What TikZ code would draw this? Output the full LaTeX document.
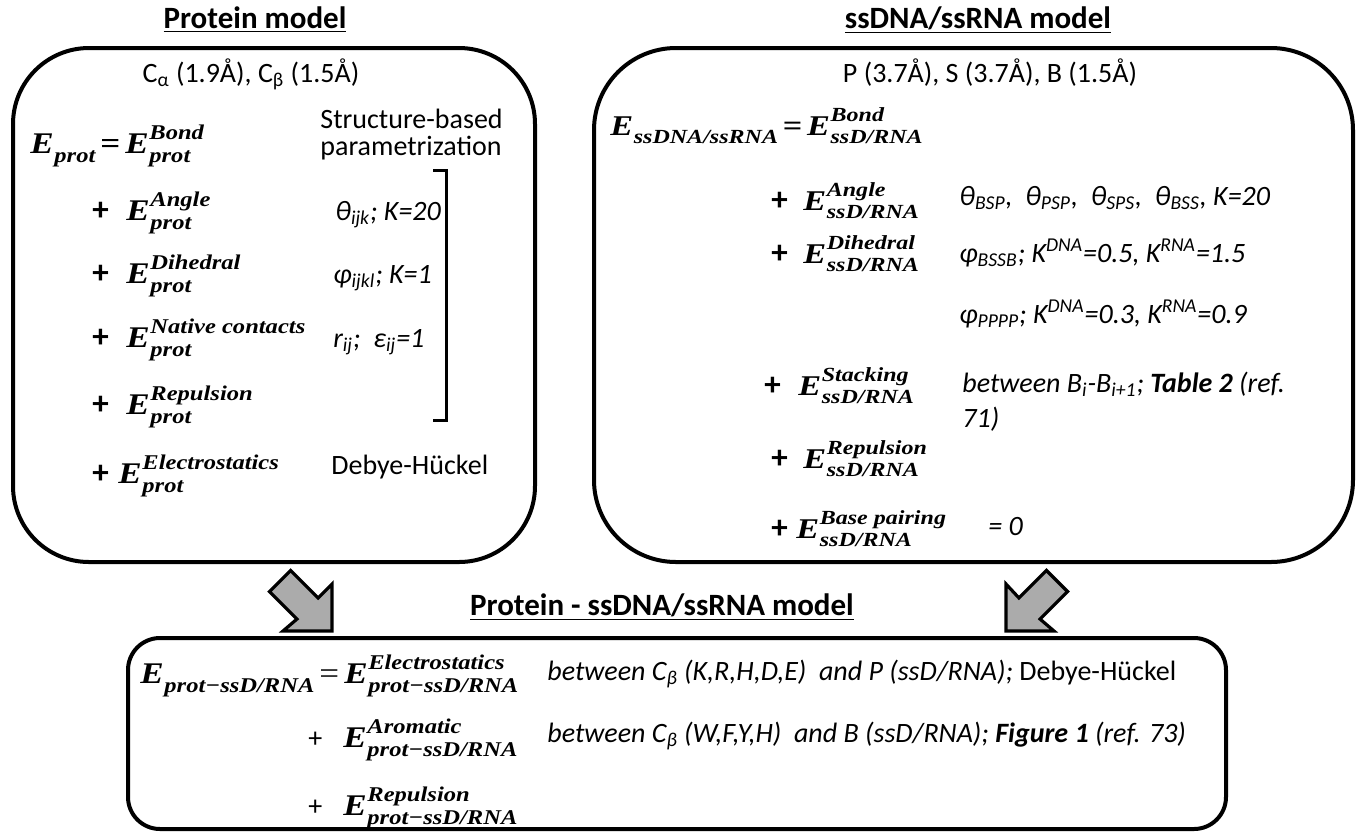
\documentclass[tikz,border=0pt]{standalone}
\usepackage{graphicx}
\usepackage{fontspec}
\setmainfont{Carlito}
\newfontfamily\eqfL{Liberation Serif}[FakeStretch=1.17]
\newfontfamily\eqfR{Liberation Serif}[FakeStretch=1.2]
\newcommand\ssc[1]{\scalebox{0.7}{#1}}
\newcommand\supsub[2]{\setbox0\hbox{\ssc{#1}}\setbox2\hbox{\ssc{#2}}%
  \raisebox{0.46em}{\rlap{\copy0}}\raisebox{-0.3em}{\copy2}%
  \ifdim\wd0>\wd2 \kern\dimexpr\wd0-\wd2\relax\fi}
\newcommand\EE[2]{E\kern0.02em\supsub{#1}{#2}}
\newcommand\Esub[1]{E\kern0.02em\raisebox{-0.3em}{\ssc{#1}}}
\tikzset{
  panel/.style={line width=2pt, rounded corners=#1},
  txt/.style={inner sep=0pt, anchor=base west, font=\fontsize{14}{17}\selectfont},
  itxt/.style={inner sep=0pt, anchor=base west, font=\fontsize{14}{17}\selectfont\itshape},
  ctxt/.style={inner sep=0pt, anchor=base, font=\fontsize{14}{17}\selectfont},
  ttl/.style={inner sep=0pt, anchor=base, font=\fontsize{15.5}{18}\selectfont\bfseries},
  plusb/.style={inner sep=0pt, anchor=base west, font=\fontsize{16.5}{17}\selectfont\bfseries},
  plusr/.style={inner sep=0pt, anchor=base west, font=\fontsize{14}{17}\selectfont},
  meqL/.style={inner sep=0pt, anchor=base west, font=\fontsize{15}{17}\selectfont\eqfL\bfseries\itshape},
  meqR/.style={inner sep=0pt, anchor=base west, font=\fontsize{14.3}{17}\selectfont\eqfR\bfseries\itshape},
  blockarrow/.style={fill=black!33, draw=black, line width=1.6pt, line join=miter},
  brk/.style={line width=1.5pt}
}
\begin{document}
\begin{tikzpicture}[x=0.5pt,y=-0.5pt]
\useasboundingbox (0,0) rectangle (1356,832);

% ---------- Protein model ----------
\node[ttl] (t1) at (255,28) {\underline{Protein model}};
\draw[panel=38pt] (13,48) rectangle (535,562);
\node[ctxt] (pa) at (251,82) {C\textsubscript{α} (1.9Å), C\textsubscript{β} (1.5Å)};
\node[meqL] (l0) at (30,153) {\Esub{prot}\,\upshape=\,\itshape\EE{Bond}{prot}};
\node[txt] (sb1) at (320,128) {Structure-based};
\node[txt] (sb2) at (320,155) {parametrization};

\node[plusb] (lp1) at (92,220) {+};
\node[meqL] (le1) at (126,220) {\EE{Angle}{prot}};
\node[itxt] (lt1) at (335,220) {θ\textsubscript{ijk}; K=20};

\node[plusb] (lp2) at (92,283) {+};
\node[meqL] (le2) at (126,283) {\EE{Dihedral}{prot}};
\node[itxt] (lt2) at (333,283) {φ\textsubscript{ijkl}; K=1};

\node[plusb] (lp3) at (92,347) {+};
\node[meqL] (le3) at (126,347) {\EE{Native contacts}{prot}};
\node[itxt] (lt3) at (333,347) {r\textsubscript{ij}; \ ε\textsubscript{ij}=1};

\node[plusb] (lp4) at (92,414) {+};
\node[meqL] (le4) at (126,414) {\EE{Repulsion}{prot}};

\node[plusb] (lp5) at (92,483) {+};
\node[meqL] (le5) at (118,483) {\EE{Electrostatics}{prot}};
\node[txt] (lt5) at (331,474) {Debye-Hückel};

\coordinate (bk1) at (433,170);
\coordinate (bk2) at (433,420);
\draw[brk] (bk1) -- ++(13,0) |- (bk2);

% ---------- ssDNA/ssRNA model ----------
\node[ttl] (t2) at (978,28) {\underline{ssDNA/ssRNA model}};
\draw[panel=41pt] (594,48) rectangle (1353,562);
\node[ctxt] (pb) at (990,82) {P (3.7Å), S (3.7Å), B (1.5Å)};
\node[meqR] (r0) at (610,135) {\Esub{ssDNA/ssRNA}\,\upshape=\,\itshape\EE{Bond}{ssD/RNA}};

\node[plusb] (rp1) at (771,210) {+};
\node[meqR] (re1) at (803,210) {\EE{Angle}{ssD/RNA}};
\node[itxt] (rt1) at (959,205) {θ\textsubscript{BSP}, \ θ\textsubscript{PSP}, \ θ\textsubscript{SPS}, \ θ\textsubscript{BSS}, K=20};

\node[plusb] (rp2) at (771,263) {+};
\node[meqR] (re2) at (803,263) {\EE{Dihedral}{ssD/RNA}};
\node[itxt] (rt2) at (959,262) {φ\textsubscript{BSSB}; K\textsuperscript{DNA}=0.5, K\textsuperscript{RNA}=1.5};
\node[itxt] (rt3) at (959,323) {φ\textsubscript{PPPP}; K\textsuperscript{DNA}=0.3, K\textsuperscript{RNA}=0.9};

\node[plusb] (rp3) at (764,395) {+};
\node[meqR] (re3) at (798,395) {\EE{Stacking}{ssD/RNA}};
\node[itxt] (rt4) at (962,392) {between B\textsubscript{i}-B\textsubscript{i+1}; \textbf{Table 2} (ref.};
\node[itxt] (rt5) at (962,427) {71)};

\node[plusb] (rp4) at (771,468) {+};
\node[meqR] (re4) at (803,468) {\EE{Repulsion}{ssD/RNA}};

\node[plusb] (rp5) at (771,538) {+};
\node[meqR] (re5) at (796,538) {\EE{Base pairing}{ssD/RNA}};
\node[itxt] (rt6) at (988,535) {= 0};

% ---------- arrows ----------
\draw[blockarrow] (290.6,570.4) -- (318.1,597.9) -- (332,584) -- (332,631) -- (283,631) -- (296.9,619.1) -- (269.4,591.6) -- cycle;
\draw[blockarrow] (1046.4,570.4) -- (1018.9,597.9) -- (1006,584) -- (1006,631) -- (1054,631) -- (1040.1,619.1) -- (1067.6,591.6) -- cycle;

% ---------- Protein - ssDNA/ssRNA model ----------
\node[ttl] (t3) at (662,615) {\underline{Protein - ssDNA/ssRNA model}};
\draw[panel=16pt] (128,638) rectangle (1226,829);
\node[meqL] (b0) at (140,683) {\Esub{prot−ssD/RNA}\,\mdseries\upshape=\,\bfseries\itshape\EE{Electrostatics}{prot−ssD/RNA}};
\node[itxt] (bt1) at (547,680) {between C\textsubscript{β} (K,R,H,D,E) \ and P (ssD/RNA); \upshape Debye-Hückel};

\node[plusr] (bp2) at (308,747) {+};
\node[meqL] (be2) at (343,747) {\EE{Aromatic}{prot−ssD/RNA}};
\node[itxt] (bt2) at (547,742) {between C\textsubscript{β} (W,F,Y,H) \ and B (ssD/RNA); \textbf{Figure 1} (ref. 73)};

\node[plusr] (bp3) at (308,815) {+};
\node[meqL] (be3) at (343,815) {\EE{Repulsion}{prot−ssD/RNA}};
\end{tikzpicture}
\end{document}
